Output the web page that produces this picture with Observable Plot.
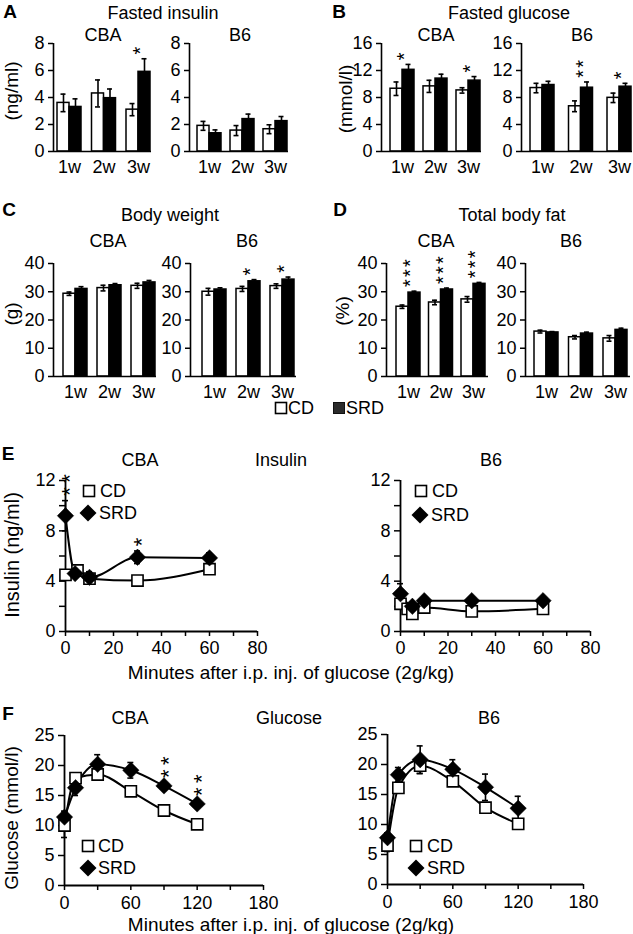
<!DOCTYPE html>
<html><head><meta charset="utf-8">
<script src="https://cdn.jsdelivr.net/npm/d3@7"></script>
<script src="https://cdn.jsdelivr.net/npm/@observablehq/plot@0.6"></script>
<style>
body{margin:0;background:#fff;}
#fig{position:relative;width:633px;height:934px;overflow:hidden;background:#fff;font-family:"Liberation Sans",Arial,Helvetica,sans-serif;color:#000;}
.t{position:absolute;font-size:18px;white-space:nowrap;transform:translate(-50%,-50%);line-height:1;}
.l{transform:translate(0,-50%);}
.b{font-weight:bold;font-size:19px;}
.r{transform:translate(-50%,-50%) rotate(-90deg);font-size:19px;}
svg.sym{position:absolute;overflow:visible;}
</style></head><body><div id="fig"></div>
<script>
// ---------- DATA ----------
const weeks = ["1w", "2w", "3w"];

// A: Fasted insulin (ng/ml)
const insCBA_CD = [3.6, 4.3, 3.1];
const insCBA_CDerr = [0.65, 1.0, 0.45];
const insCBA_SRD = [3.3, 3.95, 5.9];
const insCBA_SRDerr = [0.6, 0.68, 0.97];
const insCBA_stars = [0, 0, 1];
const insB6_CD = [1.9, 1.55, 1.65];
const insB6_CDerr = [0.33, 0.37, 0.33];
const insB6_SRD = [1.35, 2.4, 2.25];
const insB6_SRDerr = [0.25, 0.37, 0.34];
const insB6_stars = [0, 0, 0];

// B: Fasted glucose (mmol/l)
const gluCBA_CD = [9.3, 9.65, 9.05];
const gluCBA_CDerr = [1.0, 0.9, 0.4];
const gluCBA_SRD = [12.1, 10.8, 10.5];
const gluCBA_SRDerr = [0.8, 0.65, 0.6];
const gluCBA_stars = [1, 0, 1];
const gluB6_CD = [9.4, 6.7, 7.95];
const gluB6_CDerr = [0.7, 0.8, 0.7];
const gluB6_SRD = [9.85, 9.45, 9.6];
const gluB6_SRDerr = [0.55, 0.85, 0.5];
const gluB6_stars = [0, 2, 1];

// C: Body weight (g)
const bwCBA_CD = [29.3, 31.3, 32.1];
const bwCBA_CDerr = [0.6, 1.0, 0.9];
const bwCBA_SRD = [31.0, 32.3, 33.3];
const bwCBA_SRDerr = [0.8, 0.6, 0.7];
const bwCBA_stars = [0, 0, 0];
const bwB6_CD = [30.0, 31.0, 32.0];
const bwB6_CDerr = [1.2, 0.9, 0.8];
const bwB6_SRD = [30.8, 33.7, 34.3];
const bwB6_SRDerr = [0.6, 0.6, 0.9];
const bwB6_stars = [0, 1, 1];

// D: Total body fat (%)
const fatCBA_CD = [24.7, 26.2, 27.3];
const fatCBA_CDerr = [0.6, 0.8, 1.0];
const fatCBA_SRD = [29.7, 30.8, 32.8];
const fatCBA_SRDerr = [0.5, 0.5, 0.5];
const fatCBA_stars = [3, 3, 3];
const fatB6_CD = [15.9, 13.9, 13.5];
const fatB6_CDerr = [0.5, 0.6, 1.0];
const fatB6_SRD = [15.6, 15.2, 16.5];
const fatB6_SRDerr = [0.3, 0.5, 0.6];
const fatB6_stars = [0, 0, 0];

// E: Insulin during GTT (ng/ml)
const eCBA_CD_t = [0, 5, 10, 30, 60];
const eCBA_CD_v = [4.5, 4.85, 4.2, 4.05, 4.95];
const eCBA_CD_e = [0.3, 0.3, 0.35, 0.3, 0.3];
const eCBA_SRD_t = [0, 4, 10, 30, 60];
const eCBA_SRD_v = [9.2, 4.6, 4.3, 5.9, 5.85];
const eCBA_SRD_e = [1.2, 0.3, 0.45, 0.5, 0.4];
const eCBA_stars = [[0, 2], [30, 1]];
const eB6_CD_t = [0, 3, 5, 10, 30, 60];
const eB6_CD_v = [2.2, 1.8, 1.4, 1.9, 1.6, 1.8];
const eB6_CD_e = [0.3, 0.3, 0.3, 0.25, 0.2, 0.2];
const eB6_SRD_t = [0, 5, 10, 30, 60];
const eB6_SRD_v = [3.0, 2.0, 2.45, 2.45, 2.45];
const eB6_SRD_e = [0.8, 0.2, 0.2, 0.2, 0.2];
const eB6_stars = [];

// F: Glucose during GTT (mmol/l)
const fT = [0, 10, 30, 60, 90, 120];
const fCBA_CD_v = [10.0, 17.9, 18.5, 15.7, 12.5, 10.2];
const fCBA_CD_e = [2.0, 0.6, 0.8, 0.7, 0.5, 0.4];
const fCBA_SRD_v = [11.4, 16.3, 20.2, 19.2, 16.6, 13.6];
const fCBA_SRD_e = [1.0, 1.3, 1.6, 1.3, 0.5, 0.5];
const fCBA_stars = [[90, 2], [120, 2]];
const fB6_CD_v = [6.5, 16.1, 19.8, 17.2, 12.8, 10.1];
const fB6_CD_e = [1.0, 0.8, 1.3, 0.7, 0.7, 0.5];
const fB6_SRD_v = [7.8, 18.3, 20.8, 19.2, 16.2, 12.7];
const fB6_SRD_e = [0.8, 1.2, 2.3, 1.6, 2.2, 2.0];
const fB6_stars = [];

const xAxisLabel = "Minutes after i.p. inj. of glucose (2g/kg)";

// ---------- LAYOUT HELPERS ----------
const fig = document.getElementById("fig");
const FONT = "'Liberation Sans', Arial, Helvetica, sans-serif";

function addText(txt, x, y, cls = "", size) {
  const d = document.createElement("div");
  d.className = "t " + cls;
  d.textContent = txt;
  d.style.left = x + "px";
  d.style.top = y + "px";
  if (size) d.style.fontSize = size + "px";
  fig.appendChild(d);
}

function place(svg, left, top, starGap) {
  svg.style.position = "absolute";
  svg.style.left = left + "px";
  svg.style.top = top + "px";
  // significance asterisks are stacked as one rotated text; widen their spacing
  svg.querySelectorAll("text").forEach(t => {
    if (/^\*+$/.test(t.textContent)) t.style.letterSpacing = starGap + "px";
  });
  fig.appendChild(svg);
}

function starLabel(n) { return "*".repeat(n); }

function barPanel(cd, cdErr, srd, srdErr, stars, ymax, yticks, f) {
  const ml = 50, mr = 8, mt = 45, mb = 32;
  const xmin = 1 - (f.c1 - f.ax) / f.sp;
  const xmax = 3 + (f.end - (f.c1 + 2 * f.sp)) / f.sp;
  const hw = 12 / f.sp;
  const cap = 2.5 / f.sp;
  const ky = (f.zero - f.top) / ymax;
  const cdRows = weeks.map((w, i) => ({g: i + 1, v: cd[i], e: cdErr[i], x1: i + 1 - hw, x2: i + 1, xc: i + 1 - hw / 2}));
  const srdRows = weeks.map((w, i) => ({g: i + 1, v: srd[i], e: srdErr[i], x1: i + 1, x2: i + 1 + hw, xc: i + 1 + hw / 2}));
  const all = cdRows.concat(srdRows);
  const starRows = [];
  stars.forEach((n, i) => {
    if (!n) return;
    const base = Math.max(cd[i] + cdErr[i], srd[i] + srdErr[i]);
    starRows.push({g: i + 1, y: base + 4.2 / ky, s: starLabel(n)});
  });
  const svg = Plot.plot({
    width: ml + (f.end - f.ax) + mr,
    height: mt + (f.zero - f.top) + mb,
    marginLeft: ml, marginRight: mr, marginTop: mt, marginBottom: mb,
    style: {background: "transparent", fontFamily: FONT, fontSize: "18px", overflow: "visible", maxWidth: "none"},
    x: {domain: [xmin, xmax], label: null},
    y: {domain: [0, ymax], label: null},
    marks: [
      Plot.rectY(cdRows, {x1: "x1", x2: "x2", y1: 0, y2: "v", fill: "white", stroke: "black", strokeWidth: 1.5}),
      Plot.rectY(srdRows, {x1: "x1", x2: "x2", y1: 0, y2: "v", fill: "black", stroke: "black", strokeWidth: 1.5}),
      Plot.ruleX(all, {x: "xc", y1: d => d.v - d.e, y2: d => d.v + d.e, stroke: "black", strokeWidth: 1.6}),
      Plot.ruleY(all, {y: d => d.v + d.e, x1: d => d.xc - cap, x2: d => d.xc + cap, stroke: "black", strokeWidth: 1.6}),
      Plot.ruleY(all, {y: d => d.v - d.e, x1: d => d.xc - cap, x2: d => d.xc + cap, stroke: "black", strokeWidth: 1.6}),
      Plot.ruleX([xmin], {stroke: "black", strokeWidth: 1.6}),
      Plot.ruleY([0], {stroke: "black", strokeWidth: 1.6}),
      Plot.axisY({ticks: yticks, tickSize: 5, tickPadding: 4, label: null, strokeWidth: 1.5}),
      Plot.axisX({ticks: [1, 2, 3], tickFormat: d => weeks[d - 1], tickSize: 0, tickPadding: 9, label: null}),
      Plot.text(starRows, {x: "g", y: "y", text: "s", rotate: -90, textAnchor: "start", dx: 2.5, fontSize: 20, fill: "black"})
    ]
  });
  place(svg, f.ax - ml, f.top - mt, 2.2);
}

function linePanel(cfg) {
  const f = cfg.frame;
  const ml = 50, mr = 12, mt = 45, mb = 32;
  const kx = (f.end - f.ax) / cfg.xmax;
  const ky = (f.zero - f.top) / cfg.ymax;
  const mk = (t, v, e) => t.map((tt, i) => ({t: tt, v: v[i], e: e[i]}));
  const cd = mk(cfg.cdT, cfg.cdV, cfg.cdE);
  const srd = mk(cfg.srdT, cfg.srdV, cfg.srdE);
  const all = cd.concat(srd);
  const cap = 3 / kx;
  const starRows = cfg.stars.map(([t, n]) => {
    const s = srd.find(d => d.t === t);
    return {t, y: s.v + s.e + 4.8 / ky, s: starLabel(n)};
  });
  const svg = Plot.plot({
    width: ml + (f.end - f.ax) + mr,
    height: mt + (f.zero - f.top) + mb,
    marginLeft: ml, marginRight: mr, marginTop: mt, marginBottom: mb,
    style: {background: "transparent", fontFamily: FONT, fontSize: "18px", overflow: "visible", maxWidth: "none"},
    x: {domain: [0, cfg.xmax], label: null},
    y: {domain: [0, cfg.ymax], label: null},
    marks: [
      Plot.ruleX([0], {stroke: "black", strokeWidth: 1.8}),
      Plot.ruleY([0], {stroke: "black", strokeWidth: 1.8}),
      Plot.axisY({ticks: cfg.yTicks, tickFormat: d => cfg.yLabels.includes(d) ? String(d) : "", tickSize: 6, tickPadding: 4, label: null, strokeWidth: 1.5}),
      Plot.axisX({ticks: cfg.xTicks, tickFormat: d => cfg.xLabels.includes(d) ? String(d) : "", tickSize: 5, tickPadding: cfg.xPad, label: null, strokeWidth: 1.5}),
      Plot.line(cd, {x: "t", y: "v", curve: "monotone-x", stroke: "black", strokeWidth: 2}),
      Plot.line(srd, {x: "t", y: "v", curve: "monotone-x", stroke: "black", strokeWidth: 2}),
      Plot.ruleX(all, {x: "t", y1: d => d.v - d.e, y2: d => d.v + d.e, stroke: "black", strokeWidth: 1.6}),
      Plot.ruleY(all, {y: d => d.v + d.e, x1: d => d.t - cap, x2: d => d.t + cap, stroke: "black", strokeWidth: 1.6}),
      Plot.ruleY(all, {y: d => d.v - d.e, x1: d => d.t - cap, x2: d => d.t + cap, stroke: "black", strokeWidth: 1.6}),
      Plot.dot(cd, {x: "t", y: "v", symbol: "square", r: 6.3, fill: "white", stroke: "black", strokeWidth: 1.6}),
      Plot.dot(srd, {x: "t", y: "v", symbol: "diamond2", r: 7.4, fill: "black", stroke: "black", strokeWidth: 0.5}),
      Plot.text(starRows, {x: "t", y: "y", text: "s", rotate: -90, textAnchor: "start", dx: 4.5, fontSize: 22, fill: "black"})
    ]
  });
  place(svg, f.ax - ml, f.top - mt, 4.5);
}

function legendSym(kind, cx, cy) {
  const ns = "http://www.w3.org/2000/svg";
  const s = document.createElementNS(ns, "svg");
  s.setAttribute("class", "sym");
  s.setAttribute("width", 20); s.setAttribute("height", 20);
  s.style.left = (cx - 10) + "px"; s.style.top = (cy - 10) + "px";
  let el;
  if (kind === "square") {
    el = document.createElementNS(ns, "rect");
    el.setAttribute("x", 4.5); el.setAttribute("y", 4.5); el.setAttribute("width", 11); el.setAttribute("height", 11);
    el.setAttribute("fill", "white"); el.setAttribute("stroke", "black"); el.setAttribute("stroke-width", 1.6);
  } else if (kind === "dark") {
    el = document.createElementNS(ns, "rect");
    el.setAttribute("x", 4.5); el.setAttribute("y", 4.5); el.setAttribute("width", 11); el.setAttribute("height", 11);
    el.setAttribute("fill", "#2b2b2b"); el.setAttribute("stroke", "#111"); el.setAttribute("stroke-width", 1);
  } else {
    el = document.createElementNS(ns, "path");
    el.setAttribute("d", "M10,1.5L18.5,10L10,18.5L1.5,10Z");
    el.setAttribute("fill", "black");
  }
  s.appendChild(el);
  fig.appendChild(s);
}

// ---------- PANELS ----------
barPanel(insCBA_CD, insCBA_CDerr, insCBA_SRD, insCBA_SRDerr, insCBA_stars, 8, [0, 2, 4, 6, 8], {ax: 53, c1: 69, sp: 34.5, end: 151, top: 43, zero: 151});
barPanel(insB6_CD, insB6_CDerr, insB6_SRD, insB6_SRDerr, insB6_stars, 8, [0, 2, 4, 6, 8], {ax: 189, c1: 209, sp: 33, end: 288, top: 43, zero: 151});
barPanel(gluCBA_CD, gluCBA_CDerr, gluCBA_SRD, gluCBA_SRDerr, gluCBA_stars, 16, [0, 4, 8, 12, 16], {ax: 381, c1: 402, sp: 33, end: 481, top: 43, zero: 151});
barPanel(gluB6_CD, gluB6_CDerr, gluB6_SRD, gluB6_SRDerr, gluB6_stars, 16, [0, 4, 8, 12, 16], {ax: 521, c1: 542, sp: 38.5, end: 632, top: 43, zero: 151});
barPanel(bwCBA_CD, bwCBA_CDerr, bwCBA_SRD, bwCBA_SRDerr, bwCBA_stars, 40, [0, 10, 20, 30, 40], {ax: 53, c1: 75, sp: 34, end: 156, top: 263, zero: 376});
barPanel(bwB6_CD, bwB6_CDerr, bwB6_SRD, bwB6_SRDerr, bwB6_stars, 40, [0, 10, 20, 30, 40], {ax: 190, c1: 214, sp: 34, end: 296, top: 263, zero: 376});
barPanel(fatCBA_CD, fatCBA_CDerr, fatCBA_SRD, fatCBA_SRDerr, fatCBA_stars, 40, [0, 10, 20, 30, 40], {ax: 386, c1: 408, sp: 32.5, end: 488, top: 263, zero: 376});
barPanel(fatB6_CD, fatB6_CDerr, fatB6_SRD, fatB6_SRDerr, fatB6_stars, 40, [0, 10, 20, 30, 40], {ax: 525, c1: 546, sp: 34.5, end: 630, top: 263, zero: 376});

const eCommon = {xmax: 80, ymax: 12, xTicks: d3.range(0, 81, 10), xLabels: [0, 20, 40, 60, 80], yTicks: d3.range(0, 13, 2), yLabels: [0, 4, 8, 12], xPad: 5};
linePanel({...eCommon, frame: {ax: 65, end: 257, top: 480, zero: 631}, cdT: eCBA_CD_t, cdV: eCBA_CD_v, cdE: eCBA_CD_e, srdT: eCBA_SRD_t, srdV: eCBA_SRD_v, srdE: eCBA_SRD_e, stars: eCBA_stars});
linePanel({...eCommon, frame: {ax: 400, end: 590, top: 480, zero: 631}, cdT: eB6_CD_t, cdV: eB6_CD_v, cdE: eB6_CD_e, srdT: eB6_SRD_t, srdV: eB6_SRD_v, srdE: eB6_SRD_e, stars: eB6_stars});
const fCommon = {xmax: 180, ymax: 25, xTicks: d3.range(0, 181, 30), xLabels: [0, 60, 120, 180], yTicks: d3.range(0, 26, 5), yLabels: d3.range(0, 26, 5), xPad: 6};
linePanel({...fCommon, frame: {ax: 64, end: 263, top: 735, zero: 885}, cdT: fT, cdV: fCBA_CD_v, cdE: fCBA_CD_e, srdT: fT, srdV: fCBA_SRD_v, srdE: fCBA_SRD_e, stars: fCBA_stars});
linePanel({...fCommon, frame: {ax: 387, end: 583, top: 734, zero: 884}, cdT: fT, cdV: fB6_CD_v, cdE: fB6_CD_e, srdT: fT, srdV: fB6_SRD_v, srdE: fB6_SRD_e, stars: fB6_stars});

// ---------- TEXT ----------
addText("A", 10, 11, "b");
addText("Fasted insulin", 163, 13);
addText("CBA", 103, 35);
addText("B6", 240, 35);
addText("(ng/ml)", 11, 91, "r");
addText("B", 339, 11, "b");
addText("Fasted glucose", 509, 13);
addText("CBA", 436, 35);
addText("B6", 582, 35);
addText("(mmol/l)", 345, 99, "r");
addText("C", 9, 209, "b");
addText("Body weight", 170, 215);
addText("CBA", 108, 241);
addText("B6", 247, 241);
addText("(g)", 11, 314, "r");
addText("D", 340, 209, "b");
addText("Total body fat", 512, 215);
addText("CBA", 436, 241);
addText("B6", 571, 241);
addText("(%)", 342, 311, "r");

// bar legend
legendSym("square", 281, 408);
addText("CD", 288, 408, "l");
legendSym("dark", 339, 408);
addText("SRD", 346, 408, "l");

addText("E", 8, 453, "b");
addText("CBA", 140, 460);
addText("Insulin", 281, 460);
addText("B6", 491, 460);
addText("Insulin (ng/ml)", 12, 555, "r", 20);
addText(xAxisLabel, 291, 672, "", 19);
legendSym("square", 89, 491); addText("CD", 100, 491, "l");
legendSym("diamond", 88, 513); addText("SRD", 99, 513, "l");
legendSym("square", 421, 491); addText("CD", 432, 491, "l");
legendSym("diamond", 420, 515); addText("SRD", 431, 515, "l");

addText("F", 8, 713, "b");
addText("CBA", 130, 718);
addText("Glucose", 289, 718);
addText("B6", 489, 718);
addText("Glucose (mmol/l)", 11, 818, "r");
addText(xAxisLabel, 291, 924, "", 19);
legendSym("square", 88, 846); addText("CD", 98, 846, "l");
legendSym("diamond", 88, 868); addText("SRD", 98, 868, "l");
legendSym("square", 416, 846); addText("CD", 427, 846, "l");
legendSym("diamond", 416, 868); addText("SRD", 427, 868, "l");
</script></body></html>
